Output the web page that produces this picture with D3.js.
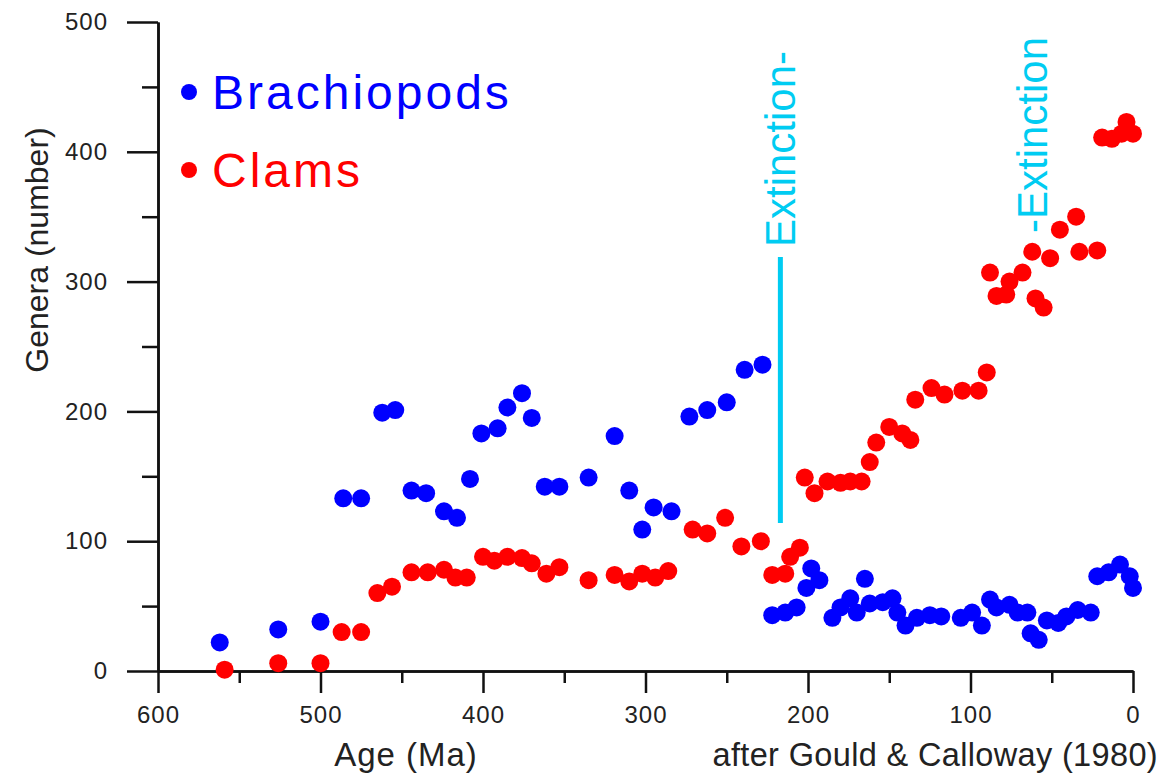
<!DOCTYPE html>
<html><head><meta charset="utf-8">
<script src="https://cdn.jsdelivr.net/npm/d3@7"></script>
<style>
html,body{margin:0;padding:0;background:#fff;}
svg{display:block;font-family:"Liberation Sans",Arial,sans-serif;}
</style></head>
<body>
<svg id="chart" width="1162" height="776"></svg>
<script>
// Brachiopods: age (Ma) and number of genera
const brachAge = [562,526,500,486,475,462,454,444,435,424,416,408,401,391,385,376,370,362,353,335,319,310,302,295,284,273,262,250,239,228,
  222,214,207,201,198,193,185,180,174,170,165,162,154,148,145,140,133,125,118,106,99,93,88,84,76,71,65,63,58,53,46,41,34,26,22,15,8,2,0];
const brachGenera = [22,32,38,133,133,199,201,139,137,123,118,148,183,187,203,214,195,142,142,149,181,139,109,126,123,196,201,207,232,236,
  43,45,49,64,79,70,41,49,56,45,71,52,53,56,45,35,41,43,42,41,45,35,55,49,51,45,45,29,24,39,37,42,47,45,73,76,82,73,64];
// Clams
const clamAge = [559,526,500,487,475,465,456,444,434,424,417,410,400,393,385,376,370,361,353,335,319,310,302,294,286,271,262,251,241,229,
  222,214,211,205,202,196,188,180,174,167,162,158,150,142,137,134,124,116,105,95,90,88,84,78,76,68,62,60,55,51,45,35,33,22,19,13,7,4,0];
const clamGenera = [1,6,6,30,30,60,65,76,76,78,72,72,88,85,88,87,83,75,80,70,74,69,75,72,77,109,106,118,96,100,
  74,75,88,95,149,137,146,145,146,146,161,176,188,183,178,209,218,213,216,216,230,307,289,290,300,307,323,287,280,318,340,350,323,324,411,410,414,423,414];

const xMajorTicks = [600,500,400,300,200,100,0];
const xMinorTicks = [550,450,350,250,150,50];
const yMajorTicks = [0,100,200,300,400,500];
const yMinorTicks = [50,150,250,350,450];
const seriesNames = ["Brachiopods","Clams"];
const seriesColors = ["#0000ff","#ff0000"];
const extinctionAges = [217, 62];
const extinctionLabels = ["Extinction-", "-Extinction"];
const xTitle = "Age (Ma)";
const yTitle = "Genera (number)";
const credit = "after Gould & Calloway (1980)";

const svg = d3.select("#chart");
const x = d3.scaleLinear().domain([600,0]).range([158,1133]);
const y = d3.scaleLinear().domain([0,500]).range([671,22]);

const axisColor = "#111";
// Y axis
const gy = svg.append("g").attr("transform","translate(158,0)");
gy.call(d3.axisLeft(y).tickValues(yMajorTicks).tickSize(31).tickSizeOuter(0).tickPadding(19));
gy.append("g").call(d3.axisLeft(y).tickValues(yMinorTicks).tickSize(16).tickSizeOuter(0).tickFormat(""));
// X axis
const gx = svg.append("g").attr("transform","translate(0,671)");
gx.call(d3.axisBottom(x).tickValues(xMajorTicks).tickSize(22).tickSizeOuter(0).tickPadding(13));
gx.append("g").call(d3.axisBottom(x).tickValues(xMinorTicks).tickSize(12).tickSizeOuter(0).tickFormat(""));

svg.selectAll(".domain").attr("stroke",axisColor).attr("stroke-width",2.5);
svg.selectAll(".tick line").attr("stroke",axisColor).attr("stroke-width",2.5);
svg.selectAll(".tick text").attr("fill","#222").style("font-size","24px").style("letter-spacing","1px")
  .style("font-family","'Liberation Sans',Arial,sans-serif");

// Axis titles
svg.append("text").attr("x",406).attr("y",766).attr("text-anchor","middle")
  .style("font-size","33px").style("letter-spacing","1px").attr("fill","#222").text(xTitle);
svg.append("text").attr("x",1158).attr("y",766).attr("text-anchor","end")
  .style("font-size","32.5px").style("letter-spacing","0.35px").attr("fill","#222").text(credit);
svg.append("text").attr("transform","translate(48,250) rotate(-90)").attr("text-anchor","middle")
  .style("font-size","32px").attr("fill","#222").text(yTitle);

// Extinction markers
const extColor = "#00ccf2";
svg.append("line").attr("x1",x(extinctionAges[0])).attr("x2",x(extinctionAges[0]))
  .attr("y1",y(319)).attr("y2",y(114)).attr("stroke",extColor).attr("stroke-width",5);
svg.append("text").attr("transform",`translate(${x(extinctionAges[0])+15},247) rotate(-90)`)
  .attr("text-anchor","start").style("font-size","42px").attr("fill",extColor).text(extinctionLabels[0]);
svg.append("text").attr("transform",`translate(${x(extinctionAges[1])+15},233) rotate(-90)`)
  .attr("text-anchor","start").style("font-size","42px").attr("fill",extColor).text(extinctionLabels[1]);

// Points
const brach = brachAge.map((a,i)=>({a, g: brachGenera[i]}));
const clams = clamAge.map((a,i)=>({a, g: clamGenera[i]}));
svg.append("g").selectAll("circle").data(clams).join("circle")
  .attr("cx",d=>x(d.a)).attr("cy",d=>y(d.g)).attr("r",9).attr("fill",seriesColors[1]);
svg.append("g").selectAll("circle").data(brach).join("circle")
  .attr("cx",d=>x(d.a)).attr("cy",d=>y(d.g)).attr("r",9).attr("fill",seriesColors[0]);

// Legend
const legY = [92,170];
seriesNames.forEach((n,i)=>{
  svg.append("circle").attr("cx",189).attr("cy",legY[i]).attr("r",8).attr("fill",seriesColors[i]);
  svg.append("text").attr("x",212).attr("y",legY[i]+17).style("font-size","48px").style("letter-spacing","3px")
    .attr("fill",seriesColors[i]).text(n);
});
</script>
</body></html>
